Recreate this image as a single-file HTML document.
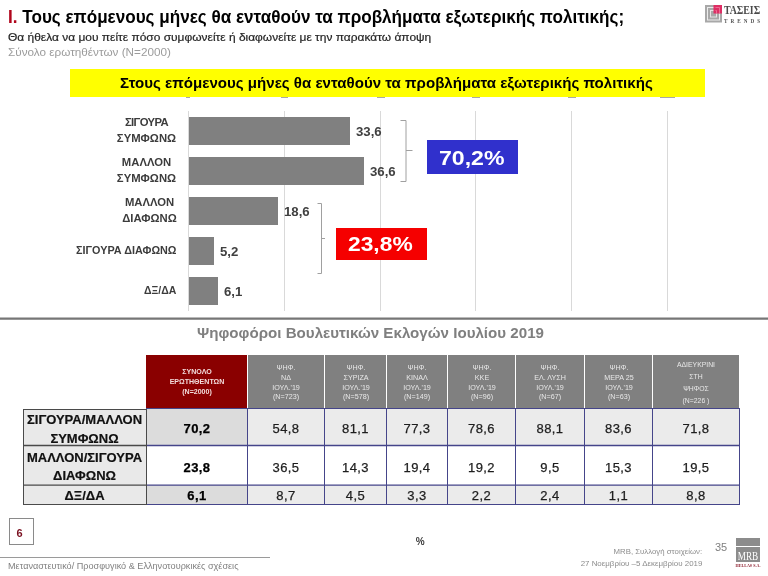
<!DOCTYPE html>
<html><head><meta charset="utf-8">
<style>
*{margin:0;padding:0;box-sizing:border-box}
html,body{width:768px;height:576px;background:#fff;overflow:hidden}
body{position:relative;font-family:"Liberation Sans",Arial,sans-serif;color:#000}
.a{position:absolute;white-space:nowrap}
</style></head><body>
<div class="a" id="title" style="top:6.92px;font-size:19px;line-height:19px;color:#000;font-weight:bold;left:8px;transform:scaleX(0.9);transform-origin:left top;"><span style="color:#b0061c">Ι.</span> Τους επόμενους μήνες θα ενταθούν τα προβλήματα εξωτερικής πολιτικής;</div>
<div class="a" id="sub1" style="top:31.89px;font-size:11px;line-height:11px;color:#262626;font-weight:normal;left:8px;transform:scaleX(1.087);transform-origin:left top;-webkit-text-stroke:0.2px #262626;">Θα ήθελα να μου πείτε πόσο συμφωνείτε ή διαφωνείτε με την παρακάτω άποψη</div>
<div class="a" id="sub2" style="top:47.09px;font-size:11px;line-height:11px;color:#9c9c9c;font-weight:normal;left:8px;transform:scaleX(1.066);transform-origin:left top;">Σύνολο ερωτηθέντων (N=2000)</div>
<svg class="a" style="left:705px;top:5px" width="18" height="18" viewBox="0 0 18 18"><rect x="0" y="0" width="17" height="17.5" fill="#a8a8a8"/><rect x="2.5" y="2.5" width="12" height="12.5" fill="none" stroke="#ececec" stroke-width="1"/><rect x="5.5" y="5.5" width="6" height="6.5" fill="none" stroke="#e4e4e4" stroke-width="1"/><rect x="8.5" y="0" width="8.5" height="8.5" fill="#e2245e" opacity="0.92"/><path d="M10.5 2.5 H14.5 V8.5 M10.5 5.5 H11.5 V8.5" fill="none" stroke="#f07a9c" stroke-width="0.8"/></svg>
<div class="a" id="taseis" style="top:4.57px;font-size:11.5px;line-height:11.5px;color:#4a4a4a;font-weight:bold;left:723.5px;transform:scaleX(0.86);transform-origin:left top;font-family:'Liberation Serif',serif;">ΤΑΣΕΙΣ</div>
<div class="a" id="trends" style="top:18.75px;font-size:5.2px;line-height:5.2px;color:#555;font-weight:bold;left:724px;font-family:'Liberation Serif',serif;letter-spacing:3.0px;">TRENDS</div>
<div class="a" style="left:70px;top:69px;width:635px;height:28px;background:#ffff00;"></div>
<div class="a" id="ytitle" style="top:75.53px;font-size:14.5px;line-height:14.5px;color:#000;font-weight:bold;left:119.6px;transform:scaleX(1.04);transform-origin:left top;">Στους επόμενους μήνες θα ενταθούν τα προβλήματα εξωτερικής πολιτικής</div>
<div class="a" style="left:188px;top:111px;width:1px;height:200px;background:#d9d9d9;"></div>
<div class="a" style="left:284px;top:111px;width:1px;height:200px;background:#d9d9d9;"></div>
<div class="a" style="left:380px;top:111px;width:1px;height:200px;background:#d9d9d9;"></div>
<div class="a" style="left:475px;top:111px;width:1px;height:200px;background:#d9d9d9;"></div>
<div class="a" style="left:571px;top:111px;width:1px;height:200px;background:#d9d9d9;"></div>
<div class="a" style="left:667px;top:111px;width:1px;height:200px;background:#d9d9d9;"></div>
<div class="a" style="left:189px;top:117px;width:161px;height:28px;background:#808080;"></div>
<div class="a" style="left:189px;top:157px;width:175px;height:28px;background:#808080;"></div>
<div class="a" style="left:189px;top:197px;width:89px;height:28px;background:#808080;"></div>
<div class="a" style="left:189px;top:237px;width:25px;height:28px;background:#808080;"></div>
<div class="a" style="left:189px;top:277px;width:29px;height:28px;background:#808080;"></div>
<div class="a" id="v0" style="top:125.84px;font-size:12px;line-height:12px;color:#404040;font-weight:bold;left:355.5px;transform:scaleX(1.1);transform-origin:left top;">33,6</div>
<div class="a" id="v1" style="top:165.84px;font-size:12px;line-height:12px;color:#404040;font-weight:bold;left:369.8px;transform:scaleX(1.1);transform-origin:left top;">36,6</div>
<div class="a" id="v2" style="top:205.84px;font-size:12px;line-height:12px;color:#404040;font-weight:bold;left:283.5px;transform:scaleX(1.1);transform-origin:left top;">18,6</div>
<div class="a" id="v3" style="top:246.04px;font-size:12px;line-height:12px;color:#404040;font-weight:bold;left:219.5px;transform:scaleX(1.1);transform-origin:left top;">5,2</div>
<div class="a" id="v4" style="top:285.94px;font-size:12px;line-height:12px;color:#404040;font-weight:bold;left:224.0px;transform:scaleX(1.1);transform-origin:left top;">6,1</div>
<div class="a" id="c0" style="top:114.86px;font-size:10.5px;line-height:15.8px;color:#3c3c3c;font-weight:bold;right:591.6px;transform:scaleX(1.075);transform-origin:right top;text-align:center;"><span style="letter-spacing:-0.6px">ΣΙΓΟΥΡΑ</span><br>ΣΥΜΦΩΝΩ</div>
<div class="a" id="c1" style="top:154.86px;font-size:10.5px;line-height:15.8px;color:#3c3c3c;font-weight:bold;right:591.6px;transform:scaleX(1.075);transform-origin:right top;text-align:center;">ΜΑΛΛΟΝ<br>ΣΥΜΦΩΝΩ</div>
<div class="a" id="c2" style="top:195.46px;font-size:10.5px;line-height:15.8px;color:#3c3c3c;font-weight:bold;right:591.6px;transform:scaleX(1.075);transform-origin:right top;text-align:center;">ΜΑΛΛΟΝ<br>ΔΙΑΦΩΝΩ</div>
<div class="a" id="c3" style="top:243.46px;font-size:10.5px;line-height:15.8px;color:#3c3c3c;font-weight:bold;right:591.6px;transform:scaleX(1.03);transform-origin:right top;text-align:center;">ΣΙΓΟΥΡΑ ΔΙΑΦΩΝΩ</div>
<div class="a" id="c4" style="top:282.66px;font-size:10.5px;line-height:15.8px;color:#3c3c3c;font-weight:bold;right:591.6px;text-align:center;">ΔΞ/ΔΑ</div>
<svg class="a" style="left:0;top:0" width="768" height="576"><path d="M400.5 120.5 H406 V181.5 H400.5 M406 150.5 H412.5" fill="none" stroke="#a0a0a0" stroke-width="1"/><path d="M317.5 203.5 H321.5 V273.5 H317.5 M321.5 238.5 H325" fill="none" stroke="#a0a0a0" stroke-width="1"/></svg>
<div class="a" style="left:427px;top:140px;width:91px;height:34px;background:#3030cc;"></div>
<div class="a" style="left:336px;top:228px;width:91px;height:32px;background:#f50000;"></div>
<div class="a" id="bb" style="top:147.77px;font-size:20px;line-height:20px;color:#fff;font-weight:bold;left:439.2px;transform:scaleX(1.155);transform-origin:left top;">70,2%</div>
<div class="a" id="rb" style="top:233.97px;font-size:20px;line-height:20px;color:#fff;font-weight:bold;left:348.4px;transform:scaleX(1.14);transform-origin:left top;">23,8%</div>
<svg class="a" style="left:0;top:310px" width="768" height="16"><line x1="0" y1="8.6" x2="768" y2="8.6" stroke="#767676" stroke-width="2.2"/></svg>
<div class="a" id="ttitle" style="top:324.70px;font-size:15px;line-height:15px;color:#7f7f7f;font-weight:bold;left:196.5px;transform:scaleX(1.009);transform-origin:left top;">Ψηφοφόροι Βουλευτικών Εκλογών Ιουλίου 2019</div>
<div class="a" style="left:146px;top:355px;width:101px;height:53px;background:#8a0000;"></div>
<div class="a" style="top:366.91px;font-size:6.6px;line-height:10.2px;color:#f3dcdc;font-weight:bold;left:196.5px;transform:scaleX(1.07);transform-origin:left top;text-align:center;width:0;display:flex;justify-content:center;">ΣΥΝΟΛΟ<br>ΕΡΩΤΗΘΕΝΤΩΝ<br>(N=2000)</div>
<div class="a" style="left:248px;top:355px;width:76px;height:53px;background:#808080;"></div>
<div class="a" style="top:363.08px;font-size:6.4px;line-height:9.8px;color:#e8e8e8;font-weight:normal;left:286.0px;transform:scaleX(1.12);transform-origin:left top;text-align:center;width:0;display:flex;justify-content:center;">ΨΗΦ.<br>ΝΔ<br>ΙΟΥΛ.'19<br>(N=723)</div>
<div class="a" style="left:325px;top:355px;width:61px;height:53px;background:#808080;"></div>
<div class="a" style="top:363.08px;font-size:6.4px;line-height:9.8px;color:#e8e8e8;font-weight:normal;left:355.5px;transform:scaleX(1.12);transform-origin:left top;text-align:center;width:0;display:flex;justify-content:center;">ΨΗΦ.<br>ΣΥΡΙΖΑ<br>ΙΟΥΛ.'19<br>(N=578)</div>
<div class="a" style="left:387px;top:355px;width:60px;height:53px;background:#808080;"></div>
<div class="a" style="top:363.08px;font-size:6.4px;line-height:9.8px;color:#e8e8e8;font-weight:normal;left:417.0px;transform:scaleX(1.12);transform-origin:left top;text-align:center;width:0;display:flex;justify-content:center;">ΨΗΦ.<br>ΚΙΝΑΛ<br>ΙΟΥΛ.'19<br>(N=149)</div>
<div class="a" style="left:448px;top:355px;width:67px;height:53px;background:#808080;"></div>
<div class="a" style="top:363.08px;font-size:6.4px;line-height:9.8px;color:#e8e8e8;font-weight:normal;left:481.5px;transform:scaleX(1.12);transform-origin:left top;text-align:center;width:0;display:flex;justify-content:center;">ΨΗΦ.<br>ΚΚΕ<br>ΙΟΥΛ.'19<br>(N=96)</div>
<div class="a" style="left:516px;top:355px;width:68px;height:53px;background:#808080;"></div>
<div class="a" style="top:363.08px;font-size:6.4px;line-height:9.8px;color:#e8e8e8;font-weight:normal;left:550.0px;transform:scaleX(1.12);transform-origin:left top;text-align:center;width:0;display:flex;justify-content:center;">ΨΗΦ.<br>ΕΛ. ΛΥΣΗ<br>ΙΟΥΛ.'19<br>(N=67)</div>
<div class="a" style="left:585px;top:355px;width:67px;height:53px;background:#808080;"></div>
<div class="a" style="top:363.08px;font-size:6.4px;line-height:9.8px;color:#e8e8e8;font-weight:normal;left:618.5px;transform:scaleX(1.12);transform-origin:left top;text-align:center;width:0;display:flex;justify-content:center;">ΨΗΦ.<br>ΜΕΡΑ 25<br>ΙΟΥΛ.'19<br>(N=63)</div>
<div class="a" style="left:653px;top:355px;width:86px;height:53px;background:#808080;"></div>
<div class="a" style="top:358.68px;font-size:6.4px;line-height:12px;color:#e8e8e8;font-weight:normal;left:696.0px;transform:scaleX(1.07);transform-origin:left top;text-align:center;width:0;display:flex;justify-content:center;">ΑΔΙΕΥΚΡΙΝΙ<br>ΣΤΗ<br>ΨΗΦΟΣ<br>(N=226 )</div>
<div class="a" style="left:23px;top:409px;width:123px;height:37px;background:#e9e9e9;"></div>
<div class="a" style="left:146px;top:409px;width:101px;height:37px;background:#dcdcdc;"></div>
<div class="a" style="left:247px;top:409px;width:77px;height:37px;background:#ebebeb;"></div>
<div class="a" style="left:324px;top:409px;width:62px;height:37px;background:#ebebeb;"></div>
<div class="a" style="left:386px;top:409px;width:61px;height:37px;background:#ebebeb;"></div>
<div class="a" style="left:447px;top:409px;width:68px;height:37px;background:#ebebeb;"></div>
<div class="a" style="left:515px;top:409px;width:69px;height:37px;background:#ebebeb;"></div>
<div class="a" style="left:584px;top:409px;width:68px;height:37px;background:#ebebeb;"></div>
<div class="a" style="left:652px;top:409px;width:87px;height:37px;background:#ebebeb;"></div>
<div class="a" style="left:23px;top:446px;width:123px;height:39px;background:#e9e9e9;"></div>
<div class="a" style="left:146px;top:446px;width:101px;height:39px;background:#ffffff;"></div>
<div class="a" style="left:247px;top:446px;width:77px;height:39px;background:#ffffff;"></div>
<div class="a" style="left:324px;top:446px;width:62px;height:39px;background:#ffffff;"></div>
<div class="a" style="left:386px;top:446px;width:61px;height:39px;background:#ffffff;"></div>
<div class="a" style="left:447px;top:446px;width:68px;height:39px;background:#ffffff;"></div>
<div class="a" style="left:515px;top:446px;width:69px;height:39px;background:#ffffff;"></div>
<div class="a" style="left:584px;top:446px;width:68px;height:39px;background:#ffffff;"></div>
<div class="a" style="left:652px;top:446px;width:87px;height:39px;background:#ffffff;"></div>
<div class="a" style="left:23px;top:485px;width:123px;height:19px;background:#e9e9e9;"></div>
<div class="a" style="left:146px;top:485px;width:101px;height:19px;background:#dcdcdc;"></div>
<div class="a" style="left:247px;top:485px;width:77px;height:19px;background:#ebebeb;"></div>
<div class="a" style="left:324px;top:485px;width:62px;height:19px;background:#ebebeb;"></div>
<div class="a" style="left:386px;top:485px;width:61px;height:19px;background:#ebebeb;"></div>
<div class="a" style="left:447px;top:485px;width:68px;height:19px;background:#ebebeb;"></div>
<div class="a" style="left:515px;top:485px;width:69px;height:19px;background:#ebebeb;"></div>
<div class="a" style="left:584px;top:485px;width:68px;height:19px;background:#ebebeb;"></div>
<div class="a" style="left:652px;top:485px;width:87px;height:19px;background:#ebebeb;"></div>
<div class="a" id="rl0" style="top:411.25px;font-size:13px;line-height:18.3px;color:#111;font-weight:bold;left:84.5px;text-align:center;width:0;display:flex;justify-content:center;-webkit-text-stroke:0.2px #111;">ΣΙΓΟΥΡΑ/ΜΑΛΛΟΝ<br>ΣΥΜΦΩΝΩ</div>
<div class="a" style="top:422.10px;font-size:13px;line-height:13px;color:#000;font-weight:bold;left:197.0px;letter-spacing:0.4px;width:0;display:flex;justify-content:center;-webkit-text-stroke:0.25px #000;">70,2</div>
<div class="a" style="top:422.10px;font-size:13px;line-height:13px;color:#1e1e1e;font-weight:normal;left:286.0px;letter-spacing:0.4px;width:0;display:flex;justify-content:center;-webkit-text-stroke:0.25px #1e1e1e;">54,8</div>
<div class="a" style="top:422.10px;font-size:13px;line-height:13px;color:#1e1e1e;font-weight:normal;left:355.5px;letter-spacing:0.4px;width:0;display:flex;justify-content:center;-webkit-text-stroke:0.25px #1e1e1e;">81,1</div>
<div class="a" style="top:422.10px;font-size:13px;line-height:13px;color:#1e1e1e;font-weight:normal;left:417.0px;letter-spacing:0.4px;width:0;display:flex;justify-content:center;-webkit-text-stroke:0.25px #1e1e1e;">77,3</div>
<div class="a" style="top:422.10px;font-size:13px;line-height:13px;color:#1e1e1e;font-weight:normal;left:481.5px;letter-spacing:0.4px;width:0;display:flex;justify-content:center;-webkit-text-stroke:0.25px #1e1e1e;">78,6</div>
<div class="a" style="top:422.10px;font-size:13px;line-height:13px;color:#1e1e1e;font-weight:normal;left:550.0px;letter-spacing:0.4px;width:0;display:flex;justify-content:center;-webkit-text-stroke:0.25px #1e1e1e;">88,1</div>
<div class="a" style="top:422.10px;font-size:13px;line-height:13px;color:#1e1e1e;font-weight:normal;left:618.5px;letter-spacing:0.4px;width:0;display:flex;justify-content:center;-webkit-text-stroke:0.25px #1e1e1e;">83,6</div>
<div class="a" style="top:422.10px;font-size:13px;line-height:13px;color:#1e1e1e;font-weight:normal;left:696.0px;letter-spacing:0.4px;width:0;display:flex;justify-content:center;-webkit-text-stroke:0.25px #1e1e1e;">71,8</div>
<div class="a" id="rl1" style="top:449.05px;font-size:13px;line-height:18.3px;color:#111;font-weight:bold;left:84.5px;text-align:center;width:0;display:flex;justify-content:center;-webkit-text-stroke:0.2px #111;">ΜΑΛΛΟΝ/ΣΙΓΟΥΡΑ<br>ΔΙΑΦΩΝΩ</div>
<div class="a" style="top:460.60px;font-size:13px;line-height:13px;color:#000;font-weight:bold;left:197.0px;letter-spacing:0.4px;width:0;display:flex;justify-content:center;-webkit-text-stroke:0.25px #000;">23,8</div>
<div class="a" style="top:460.60px;font-size:13px;line-height:13px;color:#1e1e1e;font-weight:normal;left:286.0px;letter-spacing:0.4px;width:0;display:flex;justify-content:center;-webkit-text-stroke:0.25px #1e1e1e;">36,5</div>
<div class="a" style="top:460.60px;font-size:13px;line-height:13px;color:#1e1e1e;font-weight:normal;left:355.5px;letter-spacing:0.4px;width:0;display:flex;justify-content:center;-webkit-text-stroke:0.25px #1e1e1e;">14,3</div>
<div class="a" style="top:460.60px;font-size:13px;line-height:13px;color:#1e1e1e;font-weight:normal;left:417.0px;letter-spacing:0.4px;width:0;display:flex;justify-content:center;-webkit-text-stroke:0.25px #1e1e1e;">19,4</div>
<div class="a" style="top:460.60px;font-size:13px;line-height:13px;color:#1e1e1e;font-weight:normal;left:481.5px;letter-spacing:0.4px;width:0;display:flex;justify-content:center;-webkit-text-stroke:0.25px #1e1e1e;">19,2</div>
<div class="a" style="top:460.60px;font-size:13px;line-height:13px;color:#1e1e1e;font-weight:normal;left:550.0px;letter-spacing:0.4px;width:0;display:flex;justify-content:center;-webkit-text-stroke:0.25px #1e1e1e;">9,5</div>
<div class="a" style="top:460.60px;font-size:13px;line-height:13px;color:#1e1e1e;font-weight:normal;left:618.5px;letter-spacing:0.4px;width:0;display:flex;justify-content:center;-webkit-text-stroke:0.25px #1e1e1e;">15,3</div>
<div class="a" style="top:460.60px;font-size:13px;line-height:13px;color:#1e1e1e;font-weight:normal;left:696.0px;letter-spacing:0.4px;width:0;display:flex;justify-content:center;-webkit-text-stroke:0.25px #1e1e1e;">19,5</div>
<div class="a" id="rl2" style="top:486.95px;font-size:13px;line-height:18.3px;color:#111;font-weight:bold;left:84.5px;text-align:center;width:0;display:flex;justify-content:center;-webkit-text-stroke:0.2px #111;">ΔΞ/ΔΑ</div>
<div class="a" style="top:489.30px;font-size:13px;line-height:13px;color:#000;font-weight:bold;left:197.0px;letter-spacing:0.4px;width:0;display:flex;justify-content:center;-webkit-text-stroke:0.25px #000;">6,1</div>
<div class="a" style="top:489.30px;font-size:13px;line-height:13px;color:#1e1e1e;font-weight:normal;left:286.0px;letter-spacing:0.4px;width:0;display:flex;justify-content:center;-webkit-text-stroke:0.25px #1e1e1e;">8,7</div>
<div class="a" style="top:489.30px;font-size:13px;line-height:13px;color:#1e1e1e;font-weight:normal;left:355.5px;letter-spacing:0.4px;width:0;display:flex;justify-content:center;-webkit-text-stroke:0.25px #1e1e1e;">4,5</div>
<div class="a" style="top:489.30px;font-size:13px;line-height:13px;color:#1e1e1e;font-weight:normal;left:417.0px;letter-spacing:0.4px;width:0;display:flex;justify-content:center;-webkit-text-stroke:0.25px #1e1e1e;">3,3</div>
<div class="a" style="top:489.30px;font-size:13px;line-height:13px;color:#1e1e1e;font-weight:normal;left:481.5px;letter-spacing:0.4px;width:0;display:flex;justify-content:center;-webkit-text-stroke:0.25px #1e1e1e;">2,2</div>
<div class="a" style="top:489.30px;font-size:13px;line-height:13px;color:#1e1e1e;font-weight:normal;left:550.0px;letter-spacing:0.4px;width:0;display:flex;justify-content:center;-webkit-text-stroke:0.25px #1e1e1e;">2,4</div>
<div class="a" style="top:489.30px;font-size:13px;line-height:13px;color:#1e1e1e;font-weight:normal;left:618.5px;letter-spacing:0.4px;width:0;display:flex;justify-content:center;-webkit-text-stroke:0.25px #1e1e1e;">1,1</div>
<div class="a" style="top:489.30px;font-size:13px;line-height:13px;color:#1e1e1e;font-weight:normal;left:696.0px;letter-spacing:0.4px;width:0;display:flex;justify-content:center;-webkit-text-stroke:0.25px #1e1e1e;">8,8</div>
<svg class="a" style="left:0;top:0" width="768" height="576"><line x1="146" y1="408.5" x2="740" y2="408.5" stroke="#45458a" stroke-width="1"/><line x1="146" y1="445.5" x2="740" y2="445.5" stroke="#45458a" stroke-width="1.5"/><line x1="146" y1="485.2" x2="740" y2="485.2" stroke="#45458a" stroke-width="1.3"/><line x1="146" y1="504.5" x2="740" y2="504.5" stroke="#45458a" stroke-width="1"/><line x1="247.5" y1="408" x2="247.5" y2="505" stroke="#45458a" stroke-width="1"/><line x1="324.5" y1="408" x2="324.5" y2="505" stroke="#45458a" stroke-width="1"/><line x1="386.5" y1="408" x2="386.5" y2="505" stroke="#45458a" stroke-width="1"/><line x1="447.5" y1="408" x2="447.5" y2="505" stroke="#45458a" stroke-width="1"/><line x1="515.5" y1="408" x2="515.5" y2="505" stroke="#45458a" stroke-width="1"/><line x1="584.5" y1="408" x2="584.5" y2="505" stroke="#45458a" stroke-width="1"/><line x1="652.5" y1="408" x2="652.5" y2="505" stroke="#45458a" stroke-width="1"/><line x1="739.5" y1="408" x2="739.5" y2="505" stroke="#45458a" stroke-width="1"/><line x1="23" y1="409.5" x2="147" y2="409.5" stroke="#4a4a4a" stroke-width="1"/><line x1="23" y1="445.5" x2="147" y2="445.5" stroke="#4a4a4a" stroke-width="1.5"/><line x1="23" y1="485.2" x2="147" y2="485.2" stroke="#4a4a4a" stroke-width="1.3"/><line x1="23" y1="504.5" x2="147" y2="504.5" stroke="#4a4a4a" stroke-width="1"/><line x1="23.5" y1="409" x2="23.5" y2="505" stroke="#4a4a4a" stroke-width="1"/><line x1="146.5" y1="409" x2="146.5" y2="505" stroke="#4a4a4a" stroke-width="1"/></svg>
<div class="a" style="left:9px;top:518px;width:25px;height:27px;background:transparent;border:1px solid #8a8a8a;"></div>
<div class="a" id="six" style="top:527.69px;font-size:11px;line-height:11px;color:#7a1020;font-weight:bold;left:16.5px;">6</div>
<div class="a" style="left:0px;top:557px;width:270px;height:1px;background:#9a9a9a;"></div>
<div class="a" id="foot" style="top:562.08px;font-size:9px;line-height:9px;color:#808080;font-weight:normal;left:8px;transform:scaleX(1.013);transform-origin:left top;">Μεταναστευτικό/ Προσφυγικό &amp; Ελληνοτουρκικές σχέσεις</div>
<div class="a" id="pct" style="top:537.24px;font-size:10px;line-height:10px;color:#404040;font-weight:bold;left:415.8px;">%</div>
<div class="a" id="mrb1" style="top:548.45px;font-size:7.5px;line-height:7.5px;color:#8c8c8c;font-weight:normal;right:65.60000000000002px;transform:scaleX(1.04);transform-origin:right top;">MRB, Συλλογή στοιχείων:</div>
<div class="a" id="mrb2" style="top:559.55px;font-size:7.5px;line-height:7.5px;color:#8c8c8c;font-weight:normal;right:65.60000000000002px;transform:scaleX(1.055);transform-origin:right top;">27 Νοεμβρίου –5 Δεκεμβρίου 2019</div>
<div class="a" id="pg" style="top:541.69px;font-size:11px;line-height:11px;color:#7f7f7f;font-weight:normal;left:715px;">35</div>
<div class="a" style="left:736px;top:538px;width:24px;height:8px;background:#8c8c8c;"></div>
<div class="a" style="left:736px;top:547px;width:24px;height:15px;background:#8c8c8c;"></div>
<div class="a" style="top:550.97px;font-size:11.5px;line-height:11.5px;color:#fff;font-weight:normal;left:748px;transform:scaleX(0.8);transform-origin:left top;font-family:'Liberation Serif',serif;text-align:center;width:0;display:flex;justify-content:center;">MRB</div>
<div class="a" style="top:563.58px;font-size:4.8px;line-height:4.8px;color:#8b1a2a;font-weight:bold;left:748px;transform:scaleX(0.85);transform-origin:left top;font-family:'Liberation Serif',serif;text-align:center;width:0;display:flex;justify-content:center;">HELLAS S.A.</div>
<div class="a" style="left:186px;top:97px;width:4px;height:1px;background:rgba(60,60,60,0.45);"></div>
<div class="a" style="left:281px;top:97px;width:7px;height:1px;background:rgba(60,60,60,0.45);"></div>
<div class="a" style="left:377px;top:97px;width:8px;height:1px;background:rgba(60,60,60,0.45);"></div>
<div class="a" style="left:472px;top:97px;width:8px;height:1px;background:rgba(60,60,60,0.45);"></div>
<div class="a" style="left:568px;top:97px;width:8px;height:1px;background:rgba(60,60,60,0.45);"></div>
<div class="a" style="left:660px;top:97px;width:15px;height:1px;background:rgba(60,60,60,0.45);"></div>
</body></html>
